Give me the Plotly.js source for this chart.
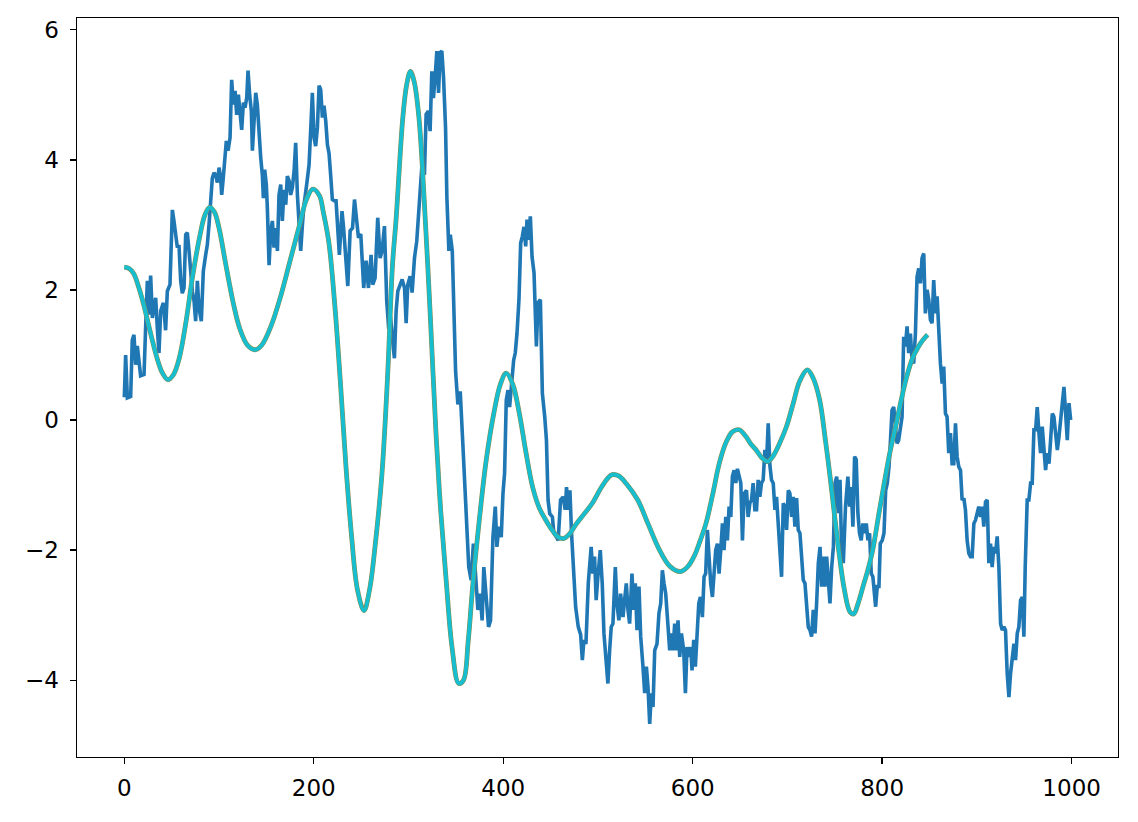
<!DOCTYPE html>
<html>
<head>
<meta charset="utf-8">
<script src="https://cdn.plot.ly/plotly-3.0.1.min.js"></script>
<style>html,body{margin:0;padding:0;background:#fff;}#chart{width:1138px;height:822px;}</style>
</head>
<body>
<div id="chart"></div>
<script>
// ---- data ----
const blueX = [0,1.4,3.2,6.7,8.4,10.2,12,13.7,17.2,20.8,22.5,24.3,26,27.8,29.6,33.1,34.8,36.6,38.4,41.2,43.6,45.4,48.2,50.7,52.4,54.2,56,57.7,59.5,61.2,63,64.8,66.5,68.3,70,71.8,73.6,75.3,77.1,78.8,81.3,83.4,85.9,87.6,89.4,91.1,92.9,94.7,96.4,98.2,100,101.7,102.8,104.2,106.3,107.7,109.5,111.6,113.3,115.1,116.9,118.6,120.4,122.1,123.9,125.7,127.4,129.2,130.6,132.3,134.1,135.2,136.9,138.7,140.4,142.2,144,145.7,146.8,148.2,149.9,151,152.8,154.5,156.3,158,159.8,161.6,163.3,165.1,166.8,168.6,170.4,172.1,173.9,175.6,177.4,179.2,180.9,182.7,184.4,186.2,188,189.7,192.5,195,197,198.5,200.3,202,203.8,205.6,207.3,209.1,210.8,212.6,214.4,216.1,217.9,219.6,221.5,223.5,227,229.8,231.5,233.5,235.9,238.4,240.9,243,245.4,247.2,249.6,252.7,255.2,257.7,260.5,262.2,264.7,267.5,270,272.1,274.6,277,279.1,280.9,283.4,285.1,286.9,288.7,291.2,293.3,295.8,297.5,299.2,301.7,303.8,306.3,308.7,310.5,312.2,314,316.8,318.6,321,322.8,324.6,326.3,328.5,329.9,331.7,333.4,335.2,337,339.1,340.5,342.6,344.1,346.2,347.9,349.7,352.1,354.6,357.3,360.8,363.6,366.1,368.5,370.7,373.2,375.6,377.7,379.5,382,384.5,386.6,389.1,391.6,393.3,395.4,397.9,399.7,401.4,403.2,405,406.7,408.5,411,412.7,414.5,416.6,418.4,420.1,421.9,423.7,425.1,426.9,428.6,430.4,432.5,435,436.7,439.2,441.3,443.8,445.6,447.3,449.1,451.9,453.4,456.2,458,460.5,463.3,465.4,466.8,468.6,470.4,472.1,473.9,476.4,479.2,481.7,483.5,485.2,487.3,489.8,492.8,494.6,496.4,498.1,499.9,502.4,504.5,506.3,508,510.5,512.3,514,515.8,518.3,520,522.1,523.9,526.4,528.1,529.9,531.7,533.4,535.9,537.7,539.4,541.2,543.3,545.1,547.5,549.3,551.1,552.8,554.6,556.3,558.1,559.9,562.3,564.4,566.2,568,569.7,571.5,574,575.7,577.5,579.2,581,582.8,584.5,586.3,588.1,590.5,592.3,594,595.8,597.9,599.3,601.1,602.8,604.6,606.4,608.1,610.2,612,613.7,615.5,616.9,619,620.8,622.5,624.3,626.1,627.8,629.6,631.4,633.1,634.9,636.6,638.4,640.2,641.9,643.7,645.5,647.2,649,650.8,652.5,654.3,656.8,658.5,660.3,662.1,663.8,665.6,667.4,669.1,670.9,672.6,674.4,676.2,677.9,679.7,681.5,683.2,685,686.8,688.5,690.3,692,693.8,695.6,697.3,699.1,700.9,702.6,704.4,706.1,707.9,709.7,711.4,713.2,715,716.7,718.5,720.2,722,723.8,725.5,727.3,729.1,730.8,732.6,734.4,736.1,737.9,739.6,741.4,743.2,744.9,746.7,748.5,750.2,752,753.7,755.5,757,759,761.3,763.8,765.6,767.3,769.1,770.9,772.6,774.4,776.1,777.9,779.7,781.4,783.2,785,786.7,788.5,790.2,793.1,794.8,796.6,798,800.1,801.9,803.7,805.4,807.2,808.6,810.4,812.2,813.9,815.7,817.4,819.2,821,822.7,824.5,826.3,828,829.8,831.5,833.3,835.1,836.8,838.6,840.4,842.1,843.9,845.6,847.4,849.2,850.9,852.7,854.4,856.2,858,859.7,861.5,863.3,865,866.8,868.5,870.3,872.1,873.8,875.6,877.4,879.1,880.9,882.7,884.4,886.2,887.9,889.7,891.5,893.2,895,896.8,898.5,900.3,902,903.8,905.6,907.3,909.1,910.9,912.6,914.4,916.1,917.9,919.7,921.4,923.2,925,926.7,928.5,930.2,932,933.8,935.5,937.3,939.1,940.8,942.6,944.3,946.1,947.9,949.6,951,953.1,954.9,956.7,958.4,960.2,962,963.7,965.5,967.2,969,970.8,972.5,974.3,976.1,977.8,979.6,981.3,983.1,984.9,986.6,988.4,990.2,991.9,993.7,995.4,997.2,999];
const blueY = [0.35,1.0,0.34,0.36,1.23,1.31,0.85,1.14,0.68,0.7,1.42,2.14,1.62,2.22,1.57,1.88,1.42,1.03,1.68,1.8,1.38,1.98,2.08,3.23,3.06,2.85,2.65,2.69,2.14,1.95,2.03,2.85,2.88,2.6,2.29,1.98,1.83,1.52,2.14,1.72,1.52,2.29,2.54,2.69,3.0,3.41,3.72,3.8,3.77,3.65,3.88,3.72,3.46,3.68,4.14,4.29,4.14,4.34,5.23,4.85,5.06,4.69,5.0,4.65,4.46,4.88,4.8,4.95,5.37,5.0,4.75,4.14,4.65,5.03,4.85,4.38,4.03,3.77,3.41,3.85,3.62,3.26,2.38,2.9,3.06,2.65,2.95,2.6,3.46,3.62,3.06,3.54,3.31,3.75,3.68,3.46,3.57,3.83,4.26,3.46,3.11,2.6,3.0,3.31,3.62,3.92,4.54,5.03,4.34,4.21,4.49,5.14,5.08,4.65,4.83,4.6,4.23,4.1,3.75,3.39,3.37,3.37,2.54,3.21,2.95,2.6,2.06,2.91,2.95,3.39,3.11,2.8,2.86,2.03,2.45,2.03,2.54,2.08,2.18,3.11,2.49,2.6,2.98,1.83,1.4,1.6,1.2,0.95,1.67,1.98,2.08,2.16,2.03,1.49,2.08,2.21,1.96,2.49,2.75,3.13,3.44,3.88,3.77,4.7,4.75,4.44,5.36,4.95,5.36,5.67,5.03,5.65,5.67,5.26,4.49,3.42,2.6,2.85,2.6,1.83,0.75,0.24,0.44,-0.35,-1.49,-2.26,-2.46,-1.9,-2.36,-2.92,-2.67,-3.08,-2.26,-2.77,-3.18,-3.08,-1.8,-1.33,-1.95,-1.64,-1.8,-1.13,-0.82,0.31,0.46,0.2,0.51,0.92,1.03,1.33,1.85,2.72,2.82,2.97,2.67,3.08,2.77,3.13,2.51,2.26,1.13,1.8,1.85,0.41,0.05,-0.31,-1.23,-1.44,-1.49,-1.74,-1.8,-1.85,-1.23,-1.18,-1.38,-1.03,-1.38,-1.08,-1.74,-2.15,-2.87,-3.18,-3.3,-3.69,-3.38,-3.44,-2.5,-1.95,-2.36,-2.1,-2.77,-2.41,-2.0,-2.51,-3.28,-3.59,-4.05,-3.54,-3.18,-3.13,-2.26,-2.82,-3.08,-2.67,-3.03,-2.77,-2.51,-2.92,-3.13,-2.36,-2.92,-2.51,-3.23,-2.56,-3.33,-3.79,-4.2,-3.79,-4.1,-4.67,-4.2,-4.41,-3.54,-3.44,-2.97,-2.82,-2.31,-2.51,-2.67,-3.18,-3.54,-3.28,-3.54,-3.13,-3.54,-3.08,-3.64,-3.28,-3.54,-4.2,-3.49,-3.64,-3.49,-3.85,-3.38,-3.79,-3.33,-2.82,-2.72,-3.03,-2.41,-2.36,-1.69,-2.1,-2.51,-2.72,-2.36,-2.0,-1.9,-2.36,-2.0,-1.59,-2.0,-1.49,-1.85,-1.33,-1.49,-0.87,-0.77,-0.97,-0.75,-0.87,-0.97,-1.85,-1.13,-1.08,-1.49,-1.28,-1.23,-0.97,-1.38,-1.38,-0.92,-1.18,-0.97,-0.92,-0.46,-0.67,-0.05,-0.7,-0.92,-0.97,-1.38,-1.18,-1.64,-1.9,-2.41,-1.28,-1.33,-1.69,-1.08,-1.13,-1.49,-1.18,-1.64,-1.2,-1.69,-1.74,-2.05,-2.46,-2.51,-2.82,-3.18,-3.23,-3.33,-2.92,-3.28,-2.82,-2.2,-1.95,-2.56,-2.1,-2.56,-2.1,-2.41,-2.82,-2.26,-1.95,-0.97,-0.87,-1.43,-0.92,-1.9,-2.2,-1.33,-0.87,-1.33,-1.03,-1.64,-0.56,-0.61,-1.44,-1.74,-1.85,-1.59,-1.74,-1.59,-1.85,-1.74,-2.36,-2.41,-2.87,-2.56,-2.56,-1.9,-1.85,-1.74,-1.08,-0.97,-0.72,-0.36,0.15,0.2,-0.15,-0.36,-0.31,-0.1,0.05,1.28,1.13,1.44,1.03,1.33,0.92,0.87,1.33,2.2,2.33,2.1,2.49,2.56,1.64,2.0,1.85,1.54,1.49,2.15,1.64,1.9,1.33,0.87,0.56,0.82,0.1,0.05,-0.51,-0.2,-0.67,-0.67,-0.05,-0.56,-0.72,-0.77,-1.23,-1.2,-1.38,-1.85,-2.05,-2.1,-2.1,-1.59,-1.54,-1.44,-1.33,-1.49,-1.33,-1.64,-1.26,-1.23,-2.2,-1.9,-2.26,-1.95,-2.05,-1.79,-2.26,-3.13,-3.23,-3.18,-3.23,-3.9,-4.26,-3.9,-3.69,-3.44,-3.69,-3.28,-3.18,-2.77,-2.72,-3.33,-2.26,-1.23,-1.23,-0.97,-0.97,-0.15,-0.15,0.2,-0.2,-0.51,-0.1,-0.51,-0.77,-0.51,-0.67,-0.31,0.1,0.05,-0.26,-0.46,-0.26,0.05,0.2,0.51,0.1,-0.31,0.26,0.0];

const cyanX = [0,5,10,15,20,25,30,35,40,46,52,58,65,72,80,85,90,95,100,107,115,122,130,138,145,155,165,175,185,192,199,206,210,216,222,228,234,240,246,253,259,265,272,278,283,287,294,298,302,306,311,318,323,329,334,340,346,353,358,363,368,375,382,390,397,403,410,417,424,431,438,445,452,458,464,470,477,485,494,503,510,515,522,530,542,553,565,576,587,595,602,608,614,621,628,635,642,649,656,662,667,673,679,685,692,699,706,713,721,727,734,740,745,750,755,760,766,770,775,780,785,790,797,803,808,815,820,826,832,838,843,848];
const cyanY = [2.35,2.33,2.25,2.05,1.8,1.5,1.2,0.93,0.73,0.62,0.7,0.95,1.5,2.2,2.85,3.15,3.27,3.2,2.95,2.4,1.8,1.4,1.15,1.08,1.15,1.45,1.9,2.45,3.0,3.38,3.55,3.45,3.2,2.72,1.8,0.6,-0.72,-1.8,-2.6,-2.93,-2.6,-1.9,-0.82,0.7,2.36,3.11,4.65,5.15,5.36,5.2,4.65,3.0,1.6,-0.2,-1.4,-2.51,-3.5,-4.05,-4.0,-3.4,-2.51,-1.5,-0.62,0.1,0.55,0.72,0.55,0.1,-0.5,-1.03,-1.35,-1.54,-1.7,-1.8,-1.82,-1.75,-1.6,-1.45,-1.28,-1.05,-0.9,-0.84,-0.86,-0.98,-1.23,-1.6,-2.0,-2.25,-2.33,-2.25,-2.08,-1.85,-1.59,-1.15,-0.67,-0.35,-0.18,-0.15,-0.25,-0.38,-0.46,-0.58,-0.64,-0.55,-0.35,-0.1,0.25,0.6,0.77,0.65,0.31,-0.3,-0.87,-1.5,-2.1,-2.6,-2.95,-2.98,-2.8,-2.55,-2.3,-2.0,-1.4,-0.9,-0.51,-0.05,0.3,0.67,0.95,1.12,1.23,1.31];

const xTickVals = [0, 200, 400, 600, 800, 1000];
const yTickVals = [-4, -2, 0, 2, 4, 6];
const xRange = [-49.95, 1048.95];
const yRange = [-5.18, 6.18];

const traces = [
  {x: blueX, y: blueY, type: 'scatter', mode: 'lines', line: {color: '#1f77b4', width: 3.6}, hoverinfo: 'skip'},
  {x: cyanX, y: cyanY, type: 'scatter', mode: 'lines', line: {color: '#8a8a4a', width: 4.8, shape: 'spline', smoothing: 1}, hoverinfo: 'skip'},
  {x: cyanX, y: cyanY, type: 'scatter', mode: 'lines', line: {color: '#17becf', width: 3.8, shape: 'spline', smoothing: 1}, hoverinfo: 'skip'}
];

const axisCommon = {
  ticks: 'outside', ticklen: 6, tickwidth: 1.4, tickcolor: '#000',
  showline: true, linecolor: '#000', linewidth: 1.4, mirror: true,
  showgrid: false, zeroline: false,
  tickfont: {family: 'DejaVu Sans', size: 23, color: '#000'}
};

const layout = {
  width: 1138, height: 822,
  margin: {l: 77, r: 20, t: 18, b: 65, pad: 0},
  paper_bgcolor: '#ffffff', plot_bgcolor: '#ffffff',
  showlegend: false,
  xaxis: Object.assign({}, axisCommon, {range: xRange, tickvals: xTickVals, ticklabelstandoff: 4}),
  yaxis: Object.assign({}, axisCommon, {range: yRange, tickvals: yTickVals, ticklabelstandoff: 6})
};

Plotly.newPlot('chart', traces, layout, {staticPlot: true, displayModeBar: false});
</script>
</body>
</html>
